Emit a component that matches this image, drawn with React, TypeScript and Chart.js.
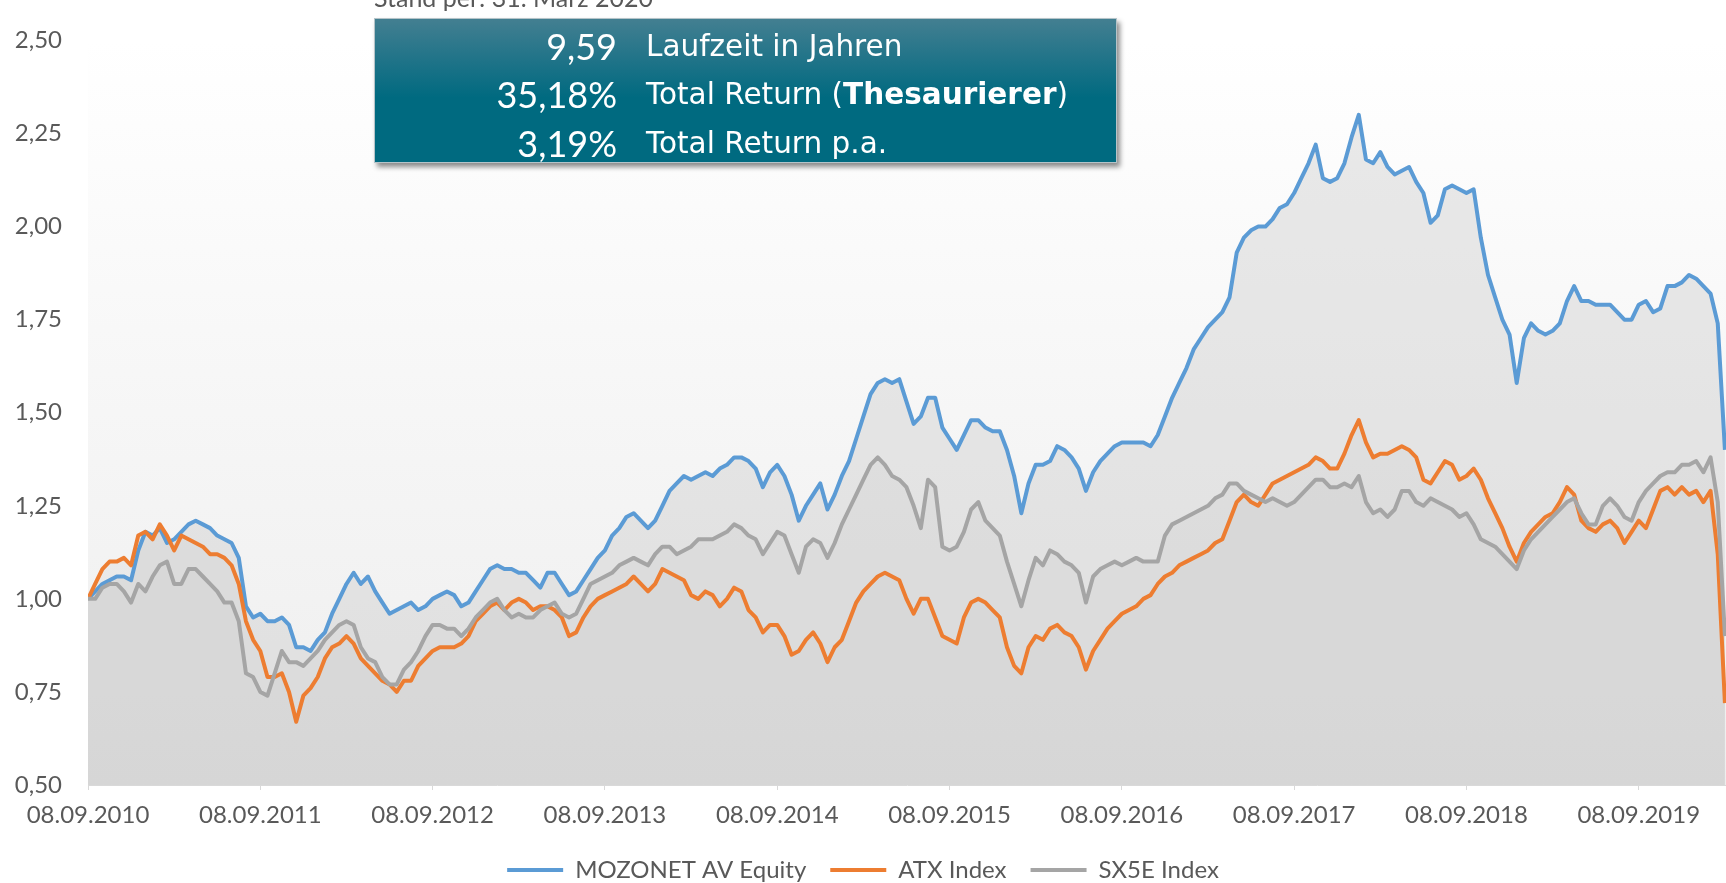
import { useEffect, useRef } from 'react';
import { Chart, registerables } from 'chart.js';

Chart.register(...registerables);

// ---- data (half-month sampling starting 08.09.2010) ----
const periodsPerYear = 24;
const xTickLabels = ['08.09.2010', '08.09.2011', '08.09.2012', '08.09.2013', '08.09.2014', '08.09.2015', '08.09.2016', '08.09.2017', '08.09.2018', '08.09.2019'];
const yTickValues = [0.5, 0.75, 1.0, 1.25, 1.5, 1.75, 2.0, 2.25, 2.5];
const seriesNames = ['MOZONET AV Equity', 'ATX Index', 'SX5E Index'];
const seriesColors = ['#5b9bd5', '#ed7d31', '#a5a5a5'];
const seriesFills = ['rgba(200,200,200,0.38)', 'rgba(200,200,200,0.2)', 'rgba(200,200,200,0.2)'];

const mozonet = [
  1.00, 1.02, 1.04, 1.05, 1.06, 1.06, 1.05, 1.13, 1.18, 1.17,
  1.19, 1.15, 1.16, 1.18, 1.20, 1.21, 1.20, 1.19, 1.17, 1.16,
  1.15, 1.11, 0.98, 0.95, 0.96, 0.94, 0.94, 0.95, 0.93, 0.87,
  0.87, 0.86, 0.89, 0.91, 0.96, 1.00, 1.04, 1.07, 1.04, 1.06,
  1.02, 0.99, 0.96, 0.97, 0.98, 0.99, 0.97, 0.98, 1.00, 1.01,
  1.02, 1.01, 0.98, 0.99, 1.02, 1.05, 1.08, 1.09, 1.08, 1.08,
  1.07, 1.07, 1.05, 1.03, 1.07, 1.07, 1.04, 1.01, 1.02, 1.05,
  1.08, 1.11, 1.13, 1.17, 1.19, 1.22, 1.23, 1.21, 1.19, 1.21,
  1.25, 1.29, 1.31, 1.33, 1.32, 1.33, 1.34, 1.33, 1.35, 1.36,
  1.38, 1.38, 1.37, 1.35, 1.30, 1.34, 1.36, 1.33, 1.28, 1.21,
  1.25, 1.28, 1.31, 1.24, 1.28, 1.33, 1.37, 1.43, 1.49, 1.55,
  1.58, 1.59, 1.58, 1.59, 1.53, 1.47, 1.49, 1.54, 1.54, 1.46,
  1.43, 1.40, 1.44, 1.48, 1.48, 1.46, 1.45, 1.45, 1.40, 1.33,
  1.23, 1.31, 1.36, 1.36, 1.37, 1.41, 1.40, 1.38, 1.35, 1.29,
  1.34, 1.37, 1.39, 1.41, 1.42, 1.42, 1.42, 1.42, 1.41, 1.44,
  1.49, 1.54, 1.58, 1.62, 1.67, 1.70, 1.73, 1.75, 1.77, 1.81,
  1.93, 1.97, 1.99, 2.00, 2.00, 2.02, 2.05, 2.06, 2.09, 2.13,
  2.17, 2.22, 2.13, 2.12, 2.13, 2.17, 2.24, 2.30, 2.18, 2.17,
  2.20, 2.16, 2.14, 2.15, 2.16, 2.12, 2.09, 2.01, 2.03, 2.10,
  2.11, 2.10, 2.09, 2.10, 1.97, 1.87, 1.81, 1.75, 1.71, 1.58,
  1.70, 1.74, 1.72, 1.71, 1.72, 1.74, 1.80, 1.84, 1.80, 1.80,
  1.79, 1.79, 1.79, 1.77, 1.75, 1.75, 1.79, 1.80, 1.77, 1.78,
  1.84, 1.84, 1.85, 1.87, 1.86, 1.84, 1.82, 1.74, 1.40,
];

const atx = [
  1.00, 1.04, 1.08, 1.10, 1.10, 1.11, 1.09, 1.17, 1.18, 1.16,
  1.20, 1.17, 1.13, 1.17, 1.16, 1.15, 1.14, 1.12, 1.12, 1.11,
  1.09, 1.04, 0.94, 0.89, 0.86, 0.79, 0.79, 0.80, 0.75, 0.67,
  0.74, 0.76, 0.79, 0.84, 0.87, 0.88, 0.90, 0.88, 0.84, 0.82,
  0.80, 0.78, 0.77, 0.75, 0.78, 0.78, 0.82, 0.84, 0.86, 0.87,
  0.87, 0.87, 0.88, 0.90, 0.94, 0.96, 0.98, 0.99, 0.97, 0.99,
  1.00, 0.99, 0.97, 0.98, 0.98, 0.97, 0.95, 0.90, 0.91, 0.95,
  0.98, 1.00, 1.01, 1.02, 1.03, 1.04, 1.06, 1.04, 1.02, 1.04,
  1.08, 1.07, 1.06, 1.05, 1.01, 1.00, 1.02, 1.01, 0.98, 1.00,
  1.03, 1.02, 0.97, 0.95, 0.91, 0.93, 0.93, 0.90, 0.85, 0.86,
  0.89, 0.91, 0.88, 0.83, 0.87, 0.89, 0.94, 0.99, 1.02, 1.04,
  1.06, 1.07, 1.06, 1.05, 1.00, 0.96, 1.00, 1.00, 0.95, 0.90,
  0.89, 0.88, 0.95, 0.99, 1.00, 0.99, 0.97, 0.95, 0.87, 0.82,
  0.80, 0.87, 0.90, 0.89, 0.92, 0.93, 0.91, 0.90, 0.87, 0.81,
  0.86, 0.89, 0.92, 0.94, 0.96, 0.97, 0.98, 1.00, 1.01, 1.04,
  1.06, 1.07, 1.09, 1.10, 1.11, 1.12, 1.13, 1.15, 1.16, 1.21,
  1.26, 1.28, 1.26, 1.25, 1.28, 1.31, 1.32, 1.33, 1.34, 1.35,
  1.36, 1.38, 1.37, 1.35, 1.35, 1.39, 1.44, 1.48, 1.42, 1.38,
  1.39, 1.39, 1.40, 1.41, 1.40, 1.38, 1.32, 1.31, 1.34, 1.37,
  1.36, 1.32, 1.33, 1.35, 1.32, 1.27, 1.23, 1.19, 1.14, 1.10,
  1.15, 1.18, 1.20, 1.22, 1.23, 1.26, 1.30, 1.28, 1.21, 1.19,
  1.18, 1.20, 1.21, 1.19, 1.15, 1.18, 1.21, 1.19, 1.24, 1.29,
  1.30, 1.28, 1.30, 1.28, 1.29, 1.26, 1.29, 1.12, 0.72,
];

const sx5e = [
  1.00, 1.00, 1.03, 1.04, 1.04, 1.02, 0.99, 1.04, 1.02, 1.06,
  1.09, 1.10, 1.04, 1.04, 1.08, 1.08, 1.06, 1.04, 1.02, 0.99,
  0.99, 0.94, 0.80, 0.79, 0.75, 0.74, 0.80, 0.86, 0.83, 0.83,
  0.82, 0.84, 0.86, 0.89, 0.91, 0.93, 0.94, 0.93, 0.87, 0.84,
  0.83, 0.79, 0.77, 0.77, 0.81, 0.83, 0.86, 0.90, 0.93, 0.93,
  0.92, 0.92, 0.90, 0.92, 0.95, 0.97, 0.99, 1.00, 0.97, 0.95,
  0.96, 0.95, 0.95, 0.97, 0.98, 0.99, 0.96, 0.95, 0.96, 1.00,
  1.04, 1.05, 1.06, 1.07, 1.09, 1.10, 1.11, 1.10, 1.09, 1.12,
  1.14, 1.14, 1.12, 1.13, 1.14, 1.16, 1.16, 1.16, 1.17, 1.18,
  1.20, 1.19, 1.17, 1.16, 1.12, 1.15, 1.18, 1.17, 1.12, 1.07,
  1.14, 1.16, 1.15, 1.11, 1.15, 1.20, 1.24, 1.28, 1.32, 1.36,
  1.38, 1.36, 1.33, 1.32, 1.30, 1.25, 1.19, 1.32, 1.30, 1.14,
  1.13, 1.14, 1.18, 1.24, 1.26, 1.21, 1.19, 1.17, 1.10, 1.04,
  0.98, 1.05, 1.11, 1.09, 1.13, 1.12, 1.10, 1.09, 1.07, 0.99,
  1.06, 1.08, 1.09, 1.10, 1.09, 1.10, 1.11, 1.10, 1.10, 1.10,
  1.17, 1.20, 1.21, 1.22, 1.23, 1.24, 1.25, 1.27, 1.28, 1.31,
  1.31, 1.29, 1.28, 1.27, 1.26, 1.27, 1.26, 1.25, 1.26, 1.28,
  1.30, 1.32, 1.32, 1.30, 1.30, 1.31, 1.30, 1.33, 1.26, 1.23,
  1.24, 1.22, 1.24, 1.29, 1.29, 1.26, 1.25, 1.27, 1.26, 1.25,
  1.24, 1.22, 1.23, 1.20, 1.16, 1.15, 1.14, 1.12, 1.10, 1.08,
  1.13, 1.16, 1.18, 1.20, 1.22, 1.24, 1.26, 1.27, 1.23, 1.20,
  1.20, 1.25, 1.27, 1.25, 1.22, 1.21, 1.26, 1.29, 1.31, 1.33,
  1.34, 1.34, 1.36, 1.36, 1.37, 1.34, 1.38, 1.26, 0.90,
];

const infoNumbers = ['9,59', '35,18%', '3,19%'];
const standText = 'Stand per: 31. März 2020';

const seriesValues = [mozonet, atx, sx5e];
const xMax = 228.15;

const plotBackground = {
  id: 'plotBackground',
  beforeDraw(chart: any) {
    const { ctx, chartArea } = chart;
    if (!chartArea) return;
    const { left, top, right, bottom } = chartArea;
    const g = ctx.createLinearGradient(0, top, 0, bottom);
    g.addColorStop(0, '#ffffff');
    g.addColorStop(0.5, '#f6f6f6');
    g.addColorStop(1, '#eeeeee');
    ctx.save();
    ctx.fillStyle = g;
    ctx.fillRect(left, top, right - left, bottom - top);
    ctx.restore();
  },
};

export default function App() {
  const canvasRef = useRef<HTMLCanvasElement>(null);

  useEffect(() => {
    const canvas = canvasRef.current;
    if (!canvas) return;
    const datasets = seriesValues.map((vals, k) => ({
      label: seriesNames[k],
      data: vals.map((v, i) => ({ x: i, y: v })),
      borderColor: seriesColors[k],
      backgroundColor: seriesFills[k],
      borderWidth: 4,
      pointRadius: 0,
      tension: 0,
      fill: 'origin',
      order: 2 - k,
      borderJoinStyle: 'round' as const,
    }));

    const chart = new Chart(canvas, {
      type: 'line',
      data: { datasets },
      plugins: [plotBackground],
      options: {
        animation: false,
        responsive: false,
        devicePixelRatio: 1,
        layout: { padding: { top: 19, right: 0, bottom: -9, left: 0 } },
        plugins: {
          filler: { drawTime: 'beforeDatasetsDraw' },
          tooltip: { enabled: false },
          legend: {
            position: 'bottom',
            align: 'center',
            labels: {
              font: { family: 'Lato', size: 24 },
              color: '#595959',
              boxWidth: 56,
              boxHeight: 4,
              padding: 24,
              sort: (a: any, b: any) => a.datasetIndex - b.datasetIndex,
              generateLabels: (ch: any) => {
                const items = Chart.defaults.plugins.legend.labels.generateLabels(ch);
                return items.map((it: any) => ({ ...it, fillStyle: it.strokeStyle, lineWidth: 0 }));
              },
            },
          },
        },
        scales: {
          x: {
            type: 'linear',
            min: 0,
            max: xMax,
            z: 1,
            afterBuildTicks: (axis: any) => {
              axis.ticks = xTickLabels.map((_, k) => ({ value: k * periodsPerYear }));
            },
            afterFit: (axis: any) => {
              axis.height = 49;
            },
            grid: { display: true, drawOnChartArea: false, drawTicks: true, tickLength: 5, color: '#d9d9d9' },
            border: { display: true, color: '#d9d9d9', width: 1 },
            ticks: {
              autoSkip: false,
              maxRotation: 0,
              padding: 11,
              color: '#595959',
              font: { family: 'Lato', size: 24 },
              callback: (_v: any, idx: number) => xTickLabels[idx],
            },
          },
          y: {
            min: 0.5,
            max: 2.5,
            afterBuildTicks: (axis: any) => {
              axis.ticks = yTickValues.map((v) => ({ value: v }));
            },
            afterFit: (axis: any) => {
              axis.width = 88;
            },
            grid: { display: false, drawTicks: false },
            border: { display: false },
            ticks: {
              padding: 26,
              color: '#595959',
              font: { family: 'Lato', size: 24 },
              callback: (v: any) => Number(v).toFixed(2).replace('.', ','),
            },
          },
        },
      },
    } as any);
    return () => chart.destroy();
  }, []);

  const rowLabels = [
    <>Laufzeit in Jahren</>,
    <>Total Return (<b>Thesaurierer</b>)</>,
    <>Total Return p.a.</>,
  ];
  const rowCenters = [27, 75, 124];

  return (
    <div style={{ position: 'absolute', left: 0, top: 0, width: 1726, height: 883, overflow: 'hidden', background: '#ffffff' }}>
      <canvas ref={canvasRef} width={1726} height={883} style={{ position: 'absolute', left: 0, top: 0, width: 1726, height: 883 }} />
      <div style={{ position: 'absolute', left: 374, top: -15, fontFamily: 'Lato', fontSize: 25, lineHeight: '25px', color: '#595959', whiteSpace: 'nowrap' }}>
        {standText}
      </div>
      <div
        style={{
          position: 'absolute',
          left: 374,
          top: 18,
          width: 743,
          height: 145,
          boxSizing: 'border-box',
          border: '1px solid #b5c4c9',
          background: 'linear-gradient(to bottom, #437f91 0%, #1e7388 30%, #006a80 55%, #006a80 100%)',
          boxShadow: '3px 4px 5px rgba(0,0,0,0.45)',
          color: '#ffffff',
        }}
      >
        {rowCenters.map((c, k) => (
          <div key={k}>
            <div style={{ position: 'absolute', right: 743 - 244, top: c - 20, height: 40, lineHeight: '40px', fontFamily: 'Lato', fontSize: 36, whiteSpace: 'nowrap', textAlign: 'right' }}>
              {infoNumbers[k]}
            </div>
            <div style={{ position: 'absolute', left: 271, top: c - 20, height: 40, lineHeight: '40px', fontFamily: 'DejaVu Sans', fontSize: 29.5, whiteSpace: 'nowrap' }}>
              {rowLabels[k]}
            </div>
          </div>
        ))}
      </div>
    </div>
  );
}
